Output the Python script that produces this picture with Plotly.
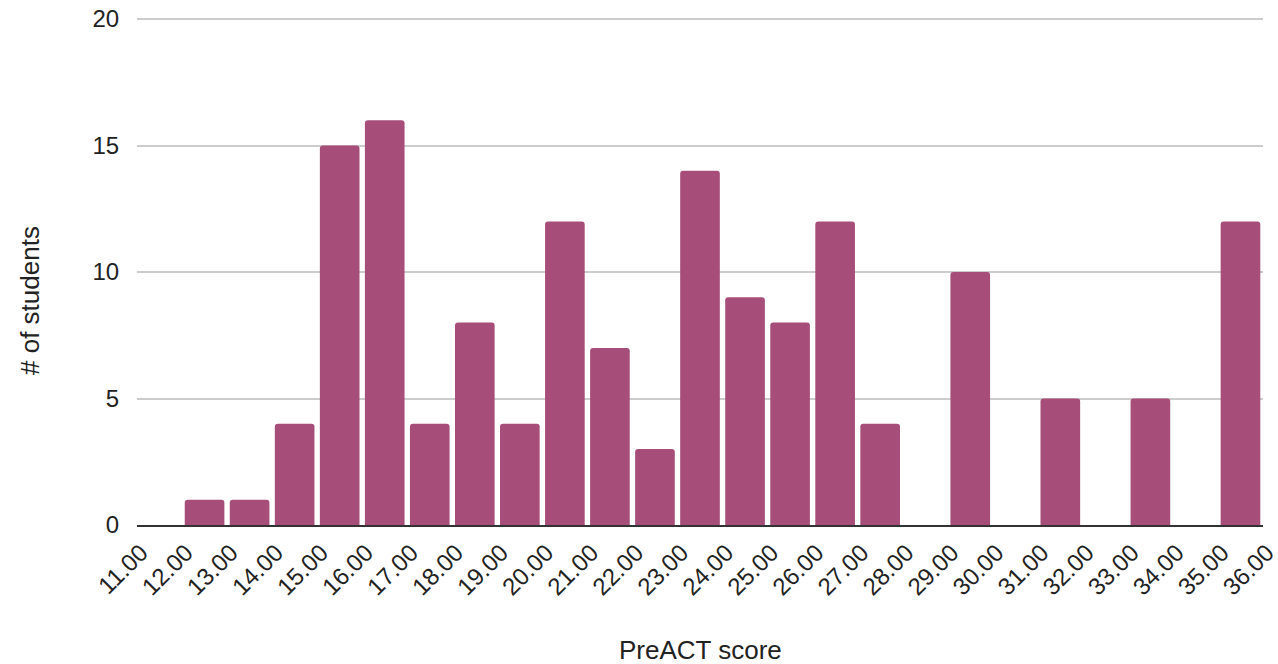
import plotly.graph_objects as go

# PreACT score bins (lower edge) and number of students in each bin
bin_starts = [11, 12, 13, 14, 15, 16, 17, 18, 19, 20, 21, 22, 23, 24, 25,
              26, 27, 28, 29, 30, 31, 32, 33, 34, 35]
counts = [0, 1, 1, 4, 15, 16, 4, 8, 4, 12, 7, 3, 14, 9, 8,
          12, 4, 0, 10, 0, 5, 0, 5, 0, 12]
edge_ticks = list(range(11, 37))
edge_labels = [f"{v:.2f}" for v in edge_ticks]

BAR_COLOR = "#A64D79"
FONT = "Liberation Sans, Arial, sans-serif"

centers = [b + 0.5 for b in bin_starts]

fig = go.Figure(
    go.Bar(
        x=centers,
        y=counts,
        width=0.88,
        marker=dict(color=BAR_COLOR, line=dict(width=0), cornerradius=3),
    )
)

W, H = 1278, 664
ml, mr, mt, mb = 137, 15, 17, 139

fig.update_layout(
    width=W,
    height=H,
    margin=dict(l=ml, r=mr, t=mt, b=mb, pad=0, autoexpand=False),
    paper_bgcolor="white",
    plot_bgcolor="white",
    showlegend=False,
    font=dict(family=FONT, color="#222222"),
    xaxis=dict(
        range=[11, 36],
        automargin=False,
        tickmode="array",
        tickvals=edge_ticks,
        ticktext=edge_labels,
        tickangle=-45,
        tickfont=dict(size=24, color="#222222"),
        ticklabelshift=4,
        ticklabeloverflow="allow",
        showgrid=False,
        zeroline=False,
        showline=True,
        linecolor="#333333",
        linewidth=2,
        ticks="outside",
        ticklen=2,
        tickcolor="rgba(0,0,0,0)",
    ),
    yaxis=dict(
        range=[0, 20.08],
        automargin=False,
        tickmode="array",
        tickvals=[0, 5, 10, 15, 20],
        tickfont=dict(size=24, color="#222222"),
        showgrid=True,
        gridcolor="#CCCCCC",
        gridwidth=2,
        zeroline=False,
        ticks="outside",
        ticklen=12,
        tickcolor="rgba(0,0,0,0)",
    ),
    annotations=[
        dict(
            text="PreACT score",
            xref="paper", yref="paper",
            x=0.5, y=(H - mb - 650) / (H - mt - mb),
            xanchor="center", yanchor="middle",
            showarrow=False,
            font=dict(size=26, family=FONT, color="#222222"),
        ),
        dict(
            text="# of students",
            xref="paper", yref="paper",
            x=(30 - ml) / (W - ml - mr), y=(H - mb - 301) / (H - mt - mb),
            xanchor="center", yanchor="middle",
            textangle=-90,
            showarrow=False,
            font=dict(size=26, family=FONT, color="#222222"),
        ),
    ],
)

fig.write_html("out.html")
